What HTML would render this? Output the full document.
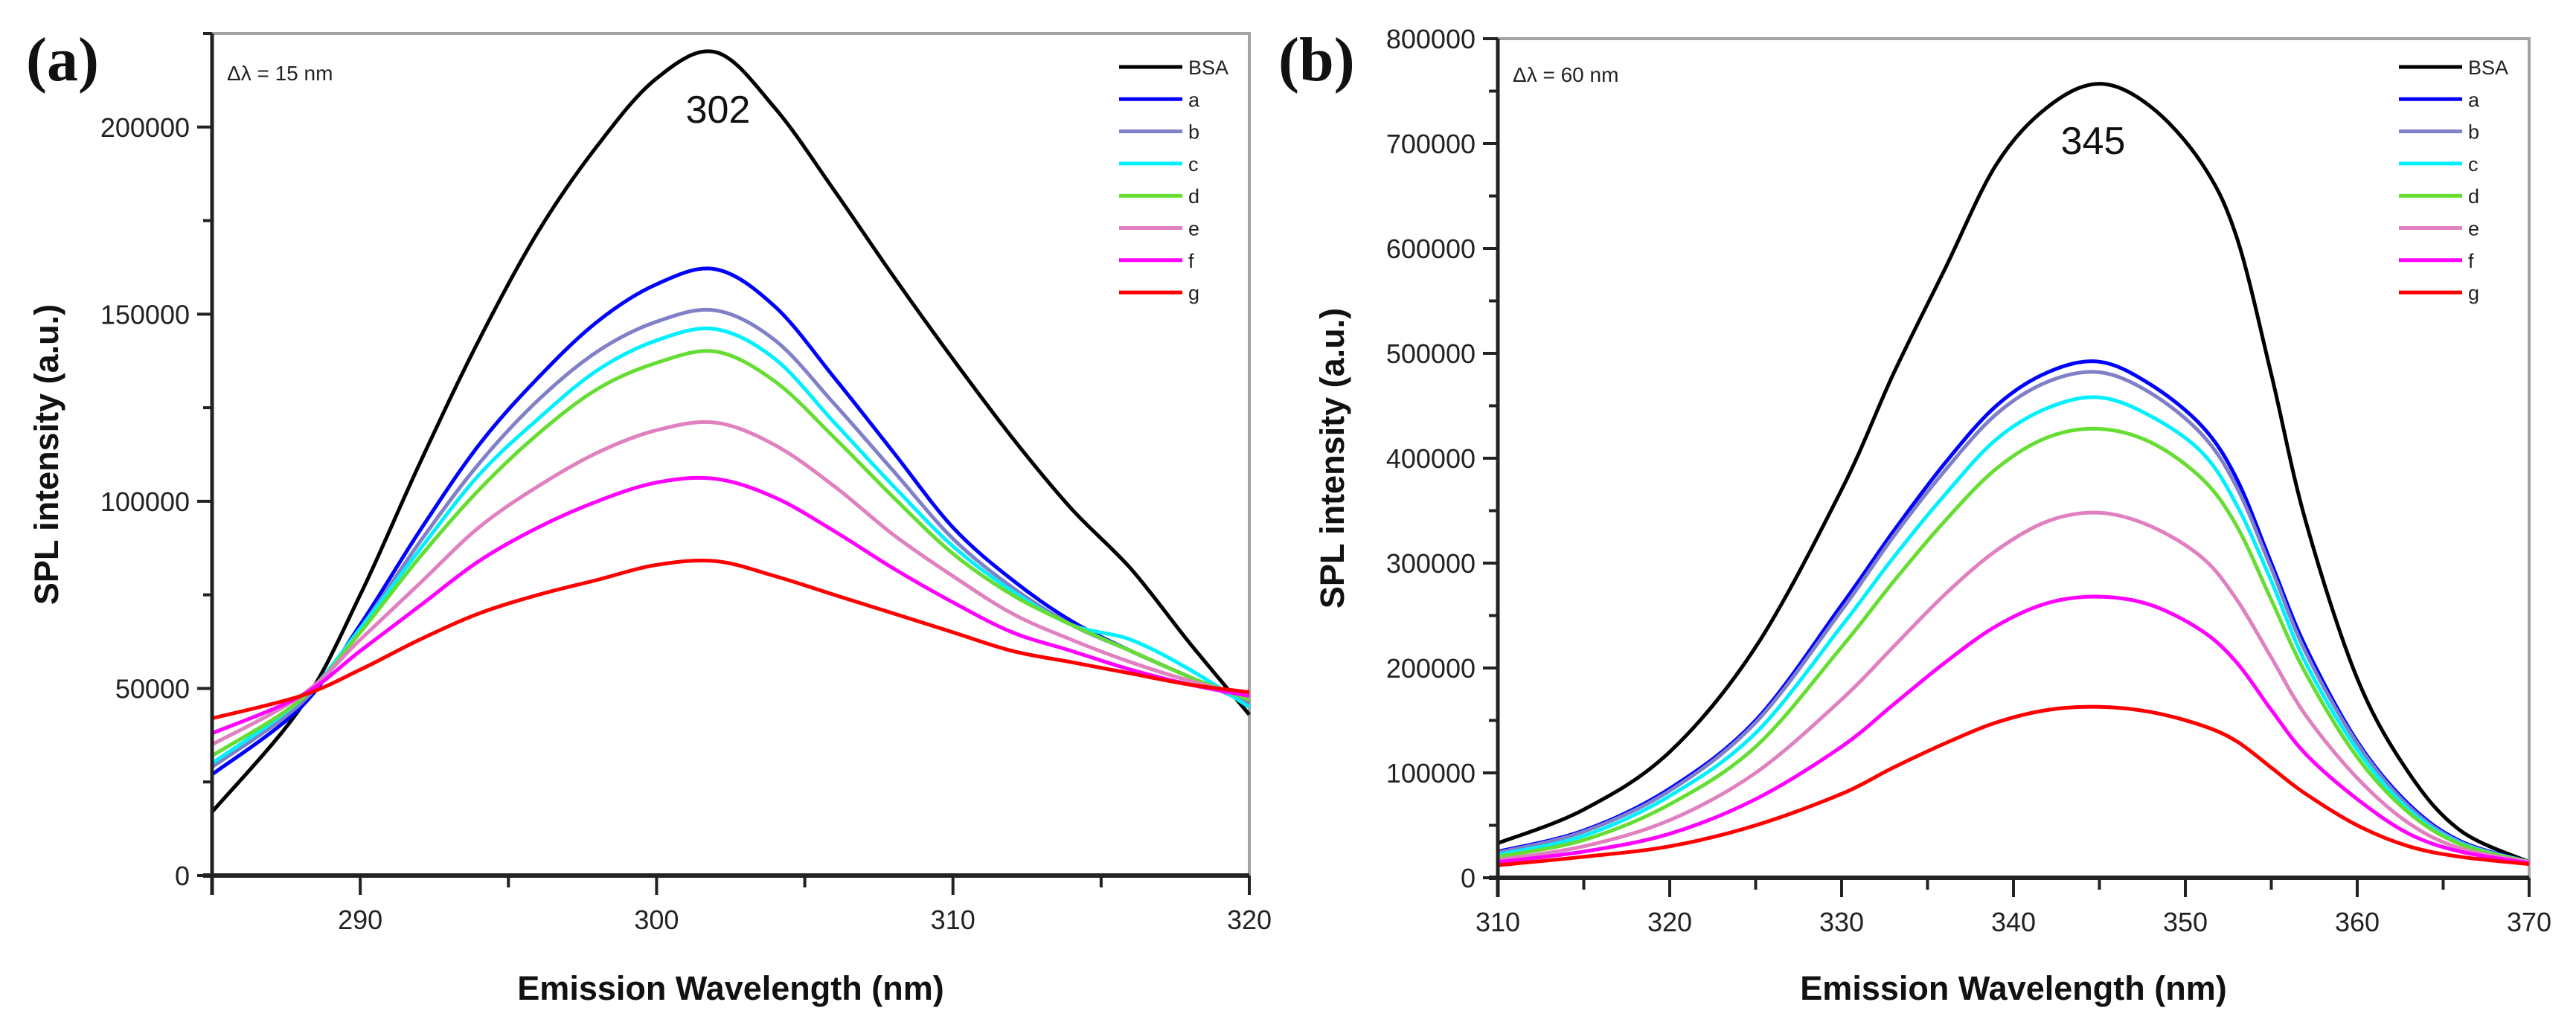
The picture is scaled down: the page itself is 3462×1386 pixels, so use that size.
<!DOCTYPE html>
<html><head><meta charset="utf-8"><style>
html,body{margin:0;padding:0;background:#fff;}
svg{display:block;font-family:"Liberation Sans",Arial,sans-serif;}
</style></head><body>
<svg id="fig" width="3462" height="1386" viewBox="0 0 3462 1386" xmlns="http://www.w3.org/2000/svg"></svg>
<script>
// ---- Panel (a) data (intensity in thousands) ----
const aX = [285,288,290,292,294,296,298,300,302,304,306,308,310,312,314,316,318,320];
const aBSA = [17,45,75,110,143,172,195,213,220,205,183,160,138,117,98,82,62,43];
const aA = [27,45,67,92,115,133,148,158,162,152,133,113,93,79,68,60,53,46];
const aB = [29,46,66,89,110,127,140,148,151,143,126,108,90,77,67,60,53,46];
const aC = [30,47,66,87,107,122,135,143,146,138,121,104,88,76,67,63,55,45];
const aD = [32,47,65,85,103,118,130,137,140,132,117,101,86,75,67,60,53,47];
const aE = [35,48,63,78,93,104,113,119,121,115,104,91,80,70,63,57,52,48];
const aF = [38,48,60,72,84,93,100,105,106,101,92,82,73,65,60,55,51,48];
const aG = [42,48,55,63,70,75,79,83,84,80,75,70,65,60,57,54,51,49];
const aXTicks = [290,300,310,320];
const aYTicks = [0,50000,100000,150000,200000];
// ---- Panel (b) data (intensity in thousands) ----
const bX = [310,315,320,325,330,333,336,339,342,345,348,351,353,355,357,360,363,366,370];
const bBSA = [33,65,120,220,370,480,580,680,735,757,735,680,610,480,340,190,100,45,15];
const bA = [25,45,85,150,260,330,395,450,482,492,470,430,380,300,220,130,70,35,15];
const bB = [24,44,83,148,255,325,388,442,473,482,462,422,372,295,215,128,68,34,15];
const bC = [22,40,78,138,240,305,365,418,448,458,440,405,355,283,205,122,65,33,15];
const bD = [20,36,70,125,220,282,340,390,420,428,415,380,335,265,195,115,62,32,15];
const bE = [17,30,55,100,170,220,270,312,340,348,335,305,265,210,155,95,52,28,15];
const bF = [15,25,42,75,125,165,205,240,262,268,260,235,205,160,118,75,42,25,14];
const bG = [12,20,30,50,80,105,128,148,160,163,158,145,130,105,80,50,30,20,13];
const bXTicks = [310,320,330,340,350,360,370];
const bYTicks = [0,100000,200000,300000,400000,500000,600000,700000,800000];
const seriesNames = ['BSA','a','b','c','d','e','f','g'];
const colors = ['#000000','#0000ff','#8080c8','#00f0ff','#66dd33','#e080c0','#ff00ff','#ff0000'];

const NS='http://www.w3.org/2000/svg';
const svg=document.getElementById('fig');
function mk(tag,attrs,parent){const e=document.createElementNS(NS,tag);for(const k in attrs)e.setAttribute(k,attrs[k]);(parent||svg).appendChild(e);return e;}
function smooth(pts){let d='M'+pts[0][0].toFixed(1)+','+pts[0][1].toFixed(1);
 for(let i=0;i<pts.length-1;i++){const p0=pts[Math.max(0,i-1)],p1=pts[i],p2=pts[i+1],p3=pts[Math.min(pts.length-1,i+2)];
  const c1=[p1[0]+(p2[0]-p0[0])/6,p1[1]+(p2[1]-p0[1])/6],c2=[p2[0]-(p3[0]-p1[0])/6,p2[1]-(p3[1]-p1[1])/6];
  d+=' C'+c1[0].toFixed(1)+','+c1[1].toFixed(1)+' '+c2[0].toFixed(1)+','+c2[1].toFixed(1)+' '+p2[0].toFixed(1)+','+p2[1].toFixed(1);}
 return d;}

function panel(cfg){
 const g=mk('g',{});
 
 
 const xs=v=>cfg.L+(v-cfg.xmin)/(cfg.xmax-cfg.xmin)*(cfg.R-cfg.L);
 const ys=v=>cfg.B-(v-cfg.ymin)/(cfg.ymax-cfg.ymin)*(cfg.B-cfg.T);
 const fr=mk('path',{d:`M${cfg.L},${cfg.T} H${cfg.R} V${cfg.B}`,fill:'none',stroke:'#a0a4a4','stroke-width':4},g);
 
 
 cfg.series.forEach((s,i)=>{
  const pts=cfg.x.map((xv,j)=>[xs(xv),ys(s[j]*1000)]);
  const p=mk('path',{d:smooth(pts),fill:'none',stroke:colors[i],'stroke-width':5,'stroke-linejoin':'round'},g);
  
  
 });
 const ax=mk('g',{},g);
 
 
 mk('line',{x1:cfg.L-12,y1:cfg.B,x2:cfg.R,y2:cfg.B,stroke:'#222','stroke-width':6},ax);
 for(let v=cfg.xmin;v<=cfg.xmax+1e-9;v+=cfg.xminor){const x=xs(v);const major=cfg.xticks.includes(v)||Math.abs(v-cfg.xmin)<1e-9;
  mk('line',{x1:x,y1:cfg.B,x2:x,y2:cfg.B+(major?26:16),stroke:'#222','stroke-width':4},ax);}
 cfg.xticks.forEach(v=>{const t=mk('text',{x:xs(v),y:cfg.B+72,'text-anchor':'middle','font-size':36,fill:'#222'},ax);t.textContent=v;
  
  });
 const ay=mk('g',{},g);
 
 
 mk('line',{x1:cfg.L,y1:cfg.T,x2:cfg.L,y2:cfg.B+26,stroke:'#222','stroke-width':5},ay);
 for(let v=cfg.ymin;v<=cfg.ymax+1e-9;v+=cfg.yminor){const y=ys(v);
  mk('line',{x1:cfg.L-(cfg.yticks.includes(v)?20:12),y1:y,x2:cfg.L,y2:y,stroke:'#222','stroke-width':4},ay);}
 cfg.yticks.forEach(v=>{const t=mk('text',{x:cfg.L-30,y:ys(v)+13,'text-anchor':'end','font-size':36,fill:'#222'},ay);t.textContent=v;
  
  });
 const xt=mk('text',{x:(cfg.L+cfg.R)/2,y:1344,'text-anchor':'middle','font-size':45,'font-weight':'bold',fill:'#111'},g);
 xt.textContent='Emission Wavelength (nm)';
 
 
 const yt=mk('text',{x:cfg.ytx,y:(cfg.T+cfg.B)/2,'text-anchor':'middle','font-size':45,'font-weight':'bold',fill:'#111',transform:`rotate(-90 ${cfg.ytx} ${(cfg.T+cfg.B)/2})`},g);
 yt.textContent='SPL intensity (a.u.)';
 
 
 const pl=mk('text',{x:cfg.plx,y:108,'font-size':84,'font-weight':'bold','font-family':'"Liberation Serif",serif',fill:'#111'},g);
 pl.textContent=cfg.label;
 
 
 const dl=mk('text',{x:cfg.L+20,y:cfg.dly,'font-size':28,fill:'#222'},g);
 dl.textContent=cfg.delta;
 
 
 const pk=mk('text',{x:cfg.pkx,y:cfg.pky,'text-anchor':'middle','font-size':52,fill:'#111'},g);
 pk.textContent=cfg.peak;
 
 
 const lg=mk('g',{},g);
 
 
 seriesNames.forEach((n,i)=>{const y=90+i*43.3;
  const e=mk('g',{},lg);
  
  
  mk('line',{x1:cfg.R-175,y1:y,x2:cfg.R-90,y2:y,stroke:colors[i],'stroke-width':5},e);
  const t=mk('text',{x:cfg.R-82,y:y+10,'font-size':27,fill:'#222'},e);t.textContent=n;});
}
panel({name:'panel-a',L:285,R:1679,T:45,B:1177,xmin:285,xmax:320,ymin:0,ymax:225000,xminor:5,yminor:25000,
 xticks:aXTicks,yticks:aYTicks,x:aX,series:[aBSA,aA,aB,aC,aD,aE,aF,aG],ytx:78,plx:35,label:'(a)',delta:'\u0394\u03bb = 15 nm',dly:108,peak:'302',pkx:965,pky:165});
panel({name:'panel-b',L:2013,R:3399,T:52,B:1180,xmin:310,xmax:370,ymin:0,ymax:800000,xminor:5,yminor:50000,
 xticks:bXTicks,yticks:bYTicks,x:bX,series:[bBSA,bA,bB,bC,bD,bE,bF,bG],ytx:1806,plx:1718,label:'(b)',delta:'\u0394\u03bb = 60 nm',dly:110,peak:'345',pkx:2813,pky:207});
</script>
</body></html>
